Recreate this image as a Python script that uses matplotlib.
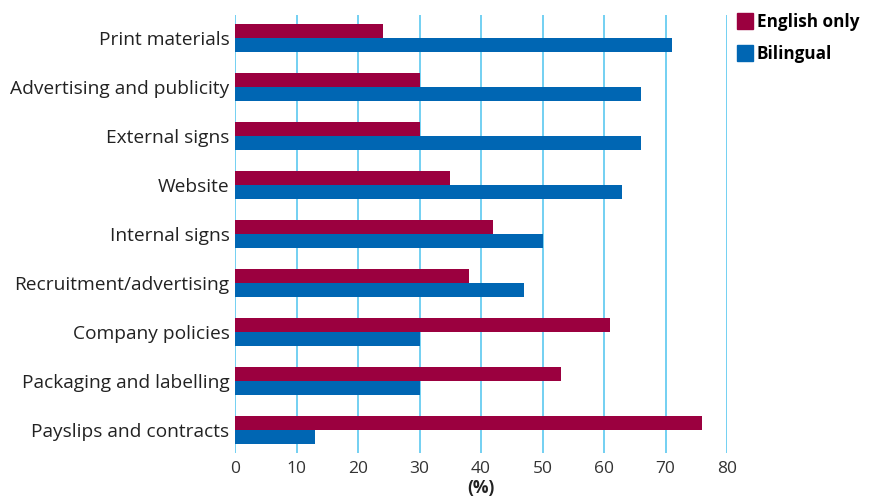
import matplotlib
matplotlib.use("Agg")
import matplotlib.pyplot as plt
from matplotlib.lines import Line2D
import numpy as np

categories = ["Print materials", "Advertising and publicity", "External signs", "Website",
              "Internal signs", "Recruitment/advertising", "Company policies",
              "Packaging and labelling", "Payslips and contracts"]
english_only = [24, 30, 30, 35, 42, 38, 61, 53, 76]
bilingual = [71, 66, 66, 63, 50, 47, 30, 30, 13]
xticks = [0, 10, 20, 30, 40, 50, 60, 70, 80]

red = "#9B003F"
blue = "#0066B3"
grid = "#5BC8F0"

plt.rcParams["font.family"] = ["Open Sans", "DejaVu Sans"]

fig = plt.figure(figsize=(8.75, 5.01), dpi=100)
ax = fig.add_axes([0.2686, 0.0958, 0.5623, 0.8742])

y = np.arange(len(categories))
h = 0.29
ax.barh(y - h / 2, english_only, height=h, color=red, zorder=3)
ax.barh(y + h / 2, bilingual, height=h, color=blue, zorder=3)

ax.set_xlim(0, 80)
ax.set_ylim(len(categories) - 1 + 0.47, -0.47)
ax.set_xticks(xticks)
ax.set_yticks(y)
ax.set_yticklabels(categories, fontsize=13.8, color="#222222")
ax.tick_params(axis="x", length=0, labelsize=12.5, labelcolor="#333333", pad=6)
ax.tick_params(axis="y", length=0, pad=4)
for s in ax.spines.values():
    s.set_visible(False)
for t in xticks:
    ax.axvline(t, color=grid, lw=1.2, zorder=1)

ax.set_xlabel("(%)", fontsize=12.5, fontweight="bold", color="#222222", labelpad=1)

handles = [Line2D([], [], marker="s", ls="", markersize=12, color=red),
           Line2D([], [], marker="s", ls="", markersize=12, color=blue)]
fig.legend(handles, ["English only", "Bilingual"], loc="upper left",
           bbox_to_anchor=(0.824, 1.005), frameon=False, handletextpad=0.2,
           handlelength=1.0, labelspacing=0.8,
           prop={"weight": "bold", "size": 12.3})

fig.savefig("out.png", dpi=100)
